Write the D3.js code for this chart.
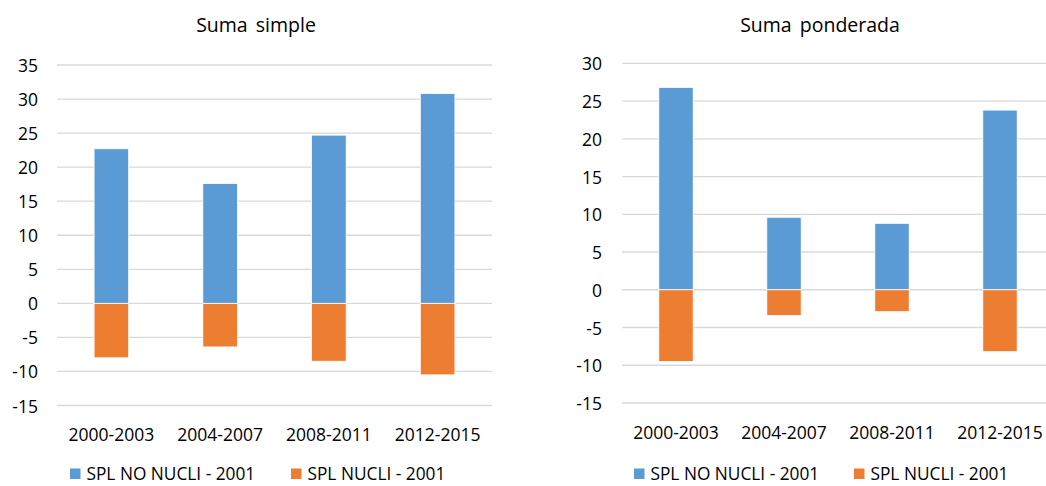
<!DOCTYPE html>
<html>
<head>
<meta charset="utf-8">
<script src="https://cdn.jsdelivr.net/npm/d3@7"></script>
<style>
  body { margin: 0; background: #fff; }
  svg { display: block; }
  text { font-family: "Open Sans", "Noto Sans", sans-serif; fill: #000; }
</style>
</head>
<body>
<svg id="chart" width="1046" height="486"></svg>
<script>
const categories = ["2000-2003", "2004-2007", "2008-2011", "2012-2015"];
const seriesNames = ["SPL NO NUCLI - 2001", "SPL NUCLI - 2001"];
const simpleNoNucli = [22.7, 17.6, 24.7, 30.8];
const simpleNucli = [-8.0, -6.4, -8.5, -10.5];
const pondNoNucli = [26.8, 9.6, 8.8, 23.8];
const pondNucli = [-9.5, -3.4, -2.9, -8.2];
const simpleTicks = [-15, -10, -5, 0, 5, 10, 15, 20, 25, 30, 35];
const pondTicks = [-15, -10, -5, 0, 5, 10, 15, 20, 25, 30];
const titles = ["Suma simple", "Suma ponderada"];
const colors = ["#5B9BD5", "#ED7D31"];

const svg = d3.select("#chart");

const panels = [
  { title: titles[0], a: simpleNoNucli, b: simpleNucli, ticks: simpleTicks,
    x0: 57, x1: 492, yTop: 65, yBot: 405.5, titleX: 256, labelRight: 38,
    legX: [70, 291] },
  { title: titles[1], a: pondNoNucli, b: pondNucli, ticks: pondTicks,
    x0: 622, x1: 1054, yTop: 63.3, yBot: 403, titleX: 820, labelRight: 602,
    legX: [634, 854] }
];

panels.forEach(p => {
  const g = svg.append("g");
  const y = d3.scaleLinear().domain([d3.min(p.ticks), d3.max(p.ticks)]).range([p.yBot, p.yTop]);
  const x = d3.scaleBand().domain(categories).range([p.x0, p.x1]).paddingInner(0.682).paddingOuter(0.341);

  g.selectAll("line.grid").data(p.ticks).enter().append("line")
    .attr("x1", p.x0).attr("x2", p.x1)
    .attr("y1", d => y(d)).attr("y2", d => y(d))
    .attr("stroke", "#d9d9d9").attr("stroke-width", 1.3);

  g.selectAll("text.ytick").data(p.ticks).enter().append("text")
    .attr("x", p.labelRight).attr("y", d => y(d))
    .attr("text-anchor", "end").attr("dominant-baseline", "central")
    .style("font-size", "17.5px").text(d => d);

  const rows = categories.map((c, i) => ({ c, a: p.a[i], b: p.b[i] }));
  g.selectAll("rect.pos").data(rows).enter().append("rect")
    .attr("x", d => x(d.c)).attr("width", x.bandwidth())
    .attr("y", d => y(Math.max(0, d.a))).attr("height", d => Math.abs(y(d.a) - y(0)))
    .attr("fill", colors[0]).attr("stroke", "#ffffff").attr("stroke-width", 0.8);
  g.selectAll("rect.neg").data(rows).enter().append("rect")
    .attr("x", d => x(d.c)).attr("width", x.bandwidth())
    .attr("y", d => y(Math.max(0, d.b))).attr("height", d => Math.abs(y(d.b) - y(0)))
    .attr("fill", colors[1]).attr("stroke", "#ffffff").attr("stroke-width", 0.8);

  g.selectAll("text.xlab").data(categories).enter().append("text")
    .attr("x", d => x(d) + x.bandwidth() / 2).attr("y", p.yBot + 28.5)
    .attr("text-anchor", "middle").attr("dominant-baseline", "central")
    .style("font-size", "17.5px").text(d => d);

  g.append("text").attr("x", p.titleX).attr("y", 24)
    .attr("text-anchor", "middle").attr("dominant-baseline", "central")
    .style("font-size", "19.5px").style("word-spacing", "3px").text(p.title);

  seriesNames.forEach((s, i) => {
    g.append("rect").attr("x", p.legX[i]).attr("y", 468.5).attr("width", 10.5).attr("height", 10.5)
      .attr("fill", colors[i]);
    g.append("text").attr("x", p.legX[i] + 16.5).attr("y", 473.5)
      .attr("dominant-baseline", "central").style("font-size", "17.3px").text(s);
  });
});
</script>
</body>
</html>
